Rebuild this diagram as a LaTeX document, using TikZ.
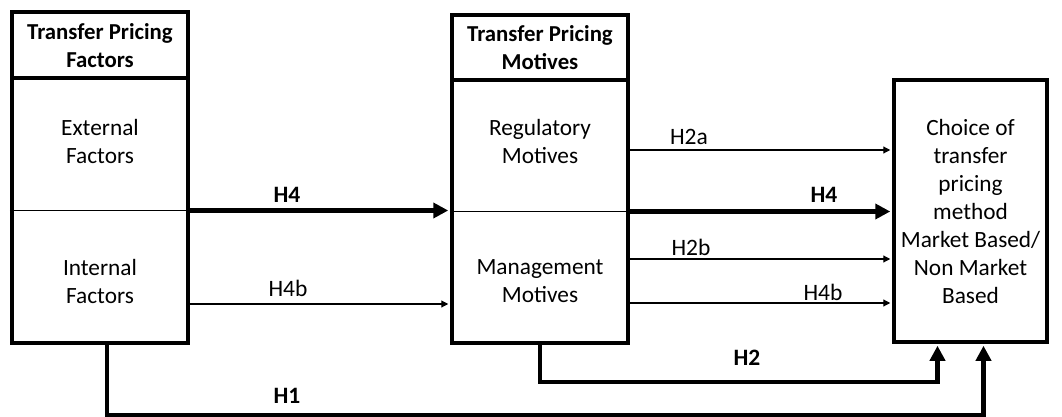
\documentclass[tikz,border=0pt]{standalone}
\usepackage{fontspec}
\setmainfont{Carlito}
\usetikzlibrary{arrows.meta,calc}
\tikzset{
  box/.style={draw, line width=4.5pt, minimum width=176pt, inner sep=0pt},
  boxtext/.style={align=center, font=\fontsize{23.3}{28}\selectfont, inner sep=0pt},
  headtext/.style={align=center, font=\fontsize{22.8}{28}\selectfont\bfseries, inner sep=0pt},
  thinarrow/.style={line width=1.1pt, -{Triangle[length=7pt,width=7pt]}, shorten >=1.5pt},
  thickarrow/.style={line width=4.2pt, -{Triangle[length=15pt,width=15pt]}, shorten >=1.5pt},
  lab/.style={font=\fontsize{23.5}{26}\selectfont, inner sep=0pt},
  blab/.style={font=\fontsize{23.5}{26}\selectfont\bfseries, inner sep=0pt},
}
\begin{document}
\begin{tikzpicture}[x=1pt,y=-1pt]
\useasboundingbox (0,0) rectangle (1062,417);
% left box
\node[box, minimum height=66pt] (lh) at (100,45) {};
\node[box, minimum height=265pt] (lb) at (100,210.5) {};
\node[headtext] (lht) at (100,46) {Transfer Pricing\\Factors};
\node[boxtext] (ext) at (100,141) {External\\Factors};
\node[boxtext] (int) at (100,281) {Internal\\Factors};
\draw[line width=1.1pt] (lb.west) -- (lb.east);
% middle box
\node[box, minimum height=65pt] (mh) at (540,47.5) {};
\node[box, minimum height=263pt] (mb) at (540,211.5) {};
\node[headtext] (mht) at (540,48) {Transfer Pricing\\Motives};
\node[boxtext] (reg) at (540,141) {Regulatory\\Motives};
\node[boxtext] (man) at (540,281) {Management\\Motives};
\draw[line width=1.1pt] (mb.west) -- (mb.east);
% right box
\node[box, minimum width=153pt, minimum height=262pt] (rb) at (970.5,211) {};
\node[boxtext] (cho) at (970.5,211) {Choice of\\transfer\\pricing\\method\\Market Based/\\Non Market\\Based};
% left to middle
\draw[thickarrow] (lb.east) -- (lb.east -| mb.west);
\draw[thinarrow] ([yshift=-93.5pt]lb.east) -- ([yshift=-93.5pt]lb.east -| mb.west);
\node[blab] (l1) at (287,195) {H4};
\node[lab] (l2) at (288,288) {H4b};
% middle to right
\draw[thinarrow] ([yshift=61.5pt]mb.east) -- ([yshift=61.5pt]mb.east -| rb.west);
\draw[thickarrow] (mb.east) -- (mb.east -| rb.west);
\draw[thinarrow] ([yshift=-47.5pt]mb.east) -- ([yshift=-47.5pt]mb.east -| rb.west);
\draw[thinarrow] ([yshift=-91.5pt]mb.east) -- ([yshift=-91.5pt]mb.east -| rb.west);
\node[lab] (l3) at (689,137) {H2a};
\node[blab] (l4) at (824,195) {H4};
\node[lab] (l5) at (691,247) {H2b};
\node[lab] (l6) at (823,292) {H4b};
% bottom connectors
\draw[thickarrow, line join=miter] (mb.south) -- ++(0,37) -| ([xshift=-33pt]rb.south);
\draw[thickarrow, line join=miter] ([xshift=7pt]lb.south) -- ++(0,70) -| ([xshift=13pt]rb.south);
\node[blab] (l7) at (747,358) {H2};
\node[blab] (l8) at (287,396) {H1};
\end{tikzpicture}
\end{document}
